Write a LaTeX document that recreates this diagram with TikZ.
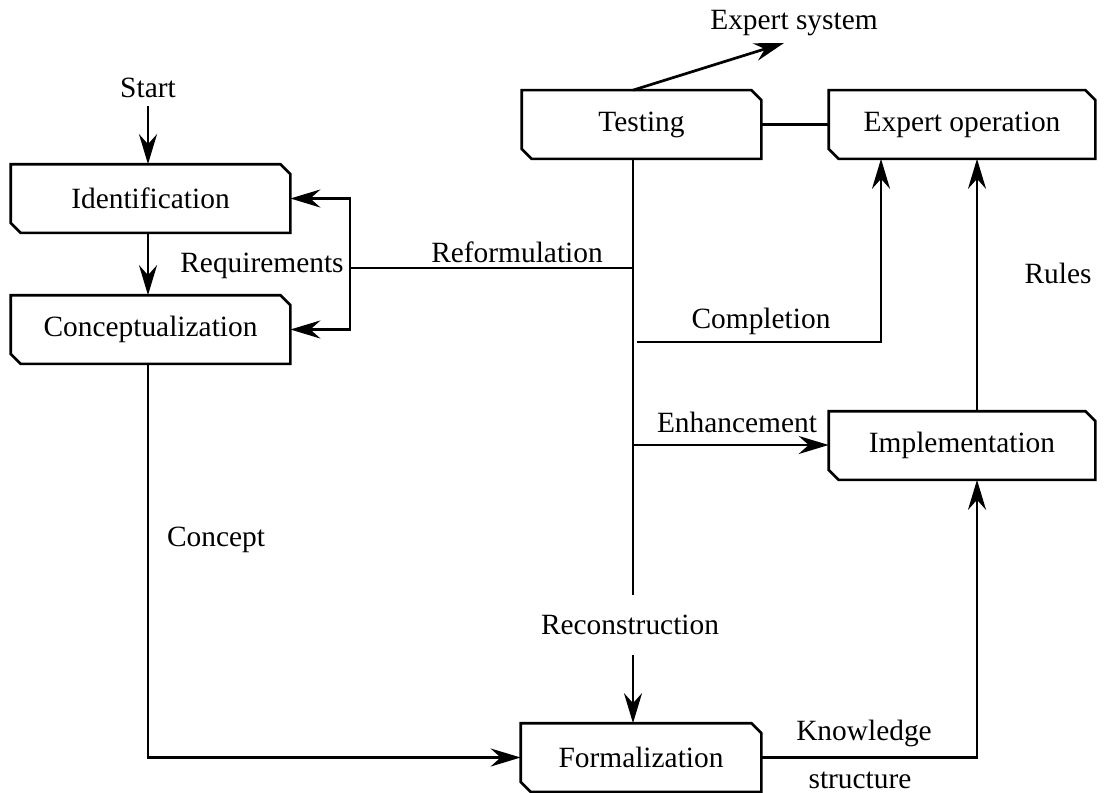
\documentclass[tikz,border=0pt]{standalone}
\usepackage{fontspec}
\setmainfont{Liberation Serif}
\usetikzlibrary{arrows.meta}

\begin{document}
\begin{tikzpicture}[x=0.5pt,y=-0.5pt,line width=1.35pt,
    >={Stealth[length=15pt,width=9pt,inset=5pt]}]

        \useasboundingbox (0,0) rectangle (1106,792);

        \begin{scope}[every node/.style={font=\fontsize{14.7}{17}\selectfont,minimum height=33pt,inner sep=0pt}]
          \node[minimum width=138.5pt] (ident)   at (150.5,198.5) {Identification};
          \node[minimum width=138.5pt] (concept) at (150.5,329.5) {Conceptualization};
          \node[minimum width=118.5pt] (testing) at (641.5,124.5) {Testing};
          \node[minimum width=132pt]   (expop)   at (962,124.5)   {Expert operation};
          \node[minimum width=132pt]   (impl)    at (962,445.5)   {Implementation};
          \node[minimum width=119pt]   (formal)  at (641,757.5)   {Formalization};
        \end{scope}

        \foreach \b in {ident,concept,testing,expop,impl,formal}
          \draw ([xshift=-5pt]\b.north east) -- ([yshift=-5pt]\b.north east) -- (\b.south east)
            -- ([xshift=5pt]\b.south west) -- ([yshift=5pt]\b.south west) -- (\b.north west) -- cycle;

        \begin{scope}[every node/.style={font=\fontsize{14.7}{17}\selectfont}]
          \node (lstart) at (148,88)   {Start};
          \node (lreq)   at (262,266)  {Requirements};
          \node (lref)   at (517,252)  {Reformulation};
          \node (lcmpl)  at (761,321)  {Completion};
          \node (lenh)   at (737,422)  {Enhancement};
          \node (lrules) at (1058,273) {Rules};
          \node (lconc)  at (216,540)  {Concept};
          \node (lrec)   at (630,625)  {Reconstruction};
          \node (lknow)  at (864,733)  {Knowledge};
          \node (lstru)  at (860,780)  {structure};
          \node (lxs)    at (794,23)   {Expert system};
        \end{scope}

        \coordinate (fb)    at (350,268);
        \coordinate (ref)   at (633,268);
        \coordinate (trunk) at (633,595);
        \coordinate (cmpl)  at (637,342);
        \coordinate (enh)   at (633,445);
        \coordinate (rc)    at (633,655);
        \coordinate (xs)    at (784,43);

        \draw[->] (lstart.south) -- (lstart.south |- ident.north);
        \draw[->] (ident.south -| lstart) -- (lstart |- concept.north);
        \draw[->] (concept.south -| lstart) |- (formal.west);
        \draw[->] (fb) |- (ident.east);
        \draw[->] (fb) |- (concept.east);
        \draw (ref) -- (fb);
        \draw (testing.south -| trunk) -- (trunk);
        \draw[->] (testing.north -| trunk) -- (xs);
        \draw (testing.east) -- (expop.west);
        \draw[->] (cmpl) -| ([xshift=-40.5pt]expop.south);
        \draw[->] (enh) -- (enh -| impl.west);
        \draw[->] ([xshift=7.5pt]impl.north) -- ([xshift=7.5pt]expop.south);
        \draw[->] (rc) -- (rc |- formal.north);
        \draw[->] (formal.east) -| ([xshift=7.5pt]impl.south);

      \end{tikzpicture}
\end{document}
